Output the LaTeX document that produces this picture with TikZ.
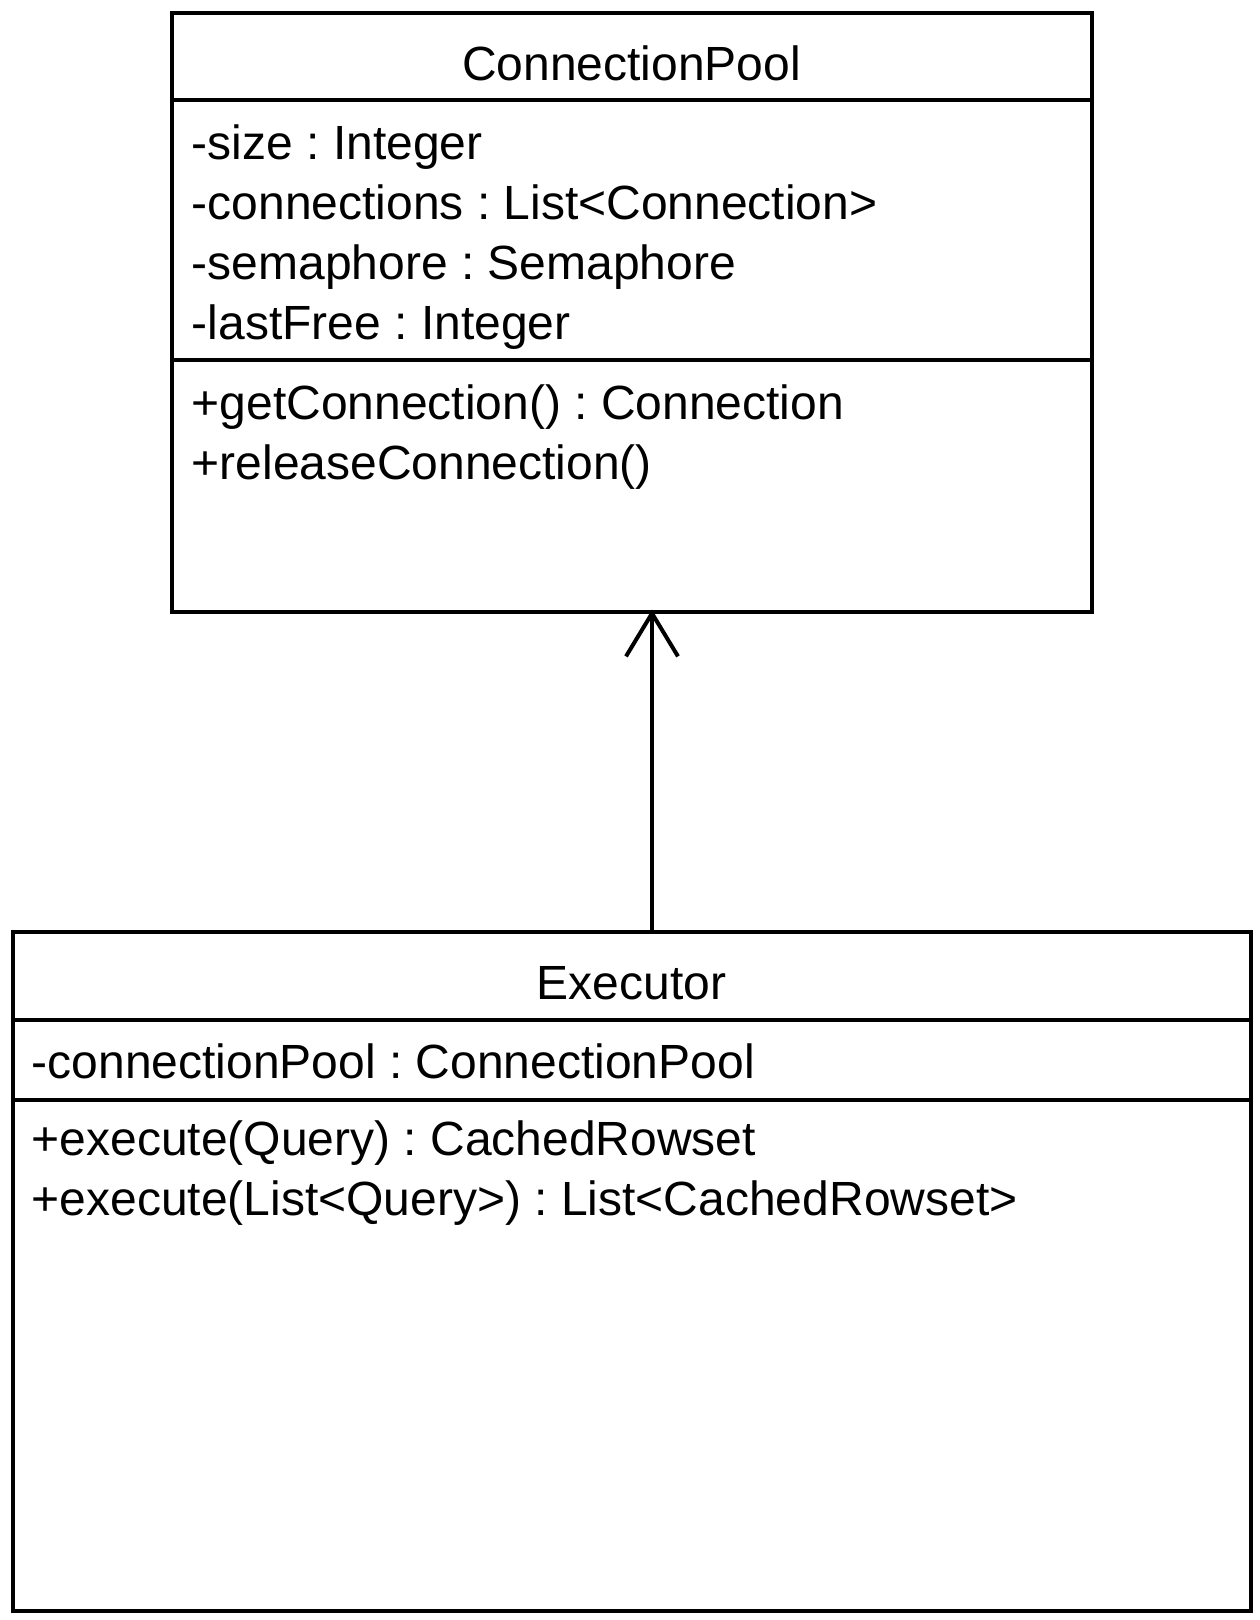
\documentclass[tikz,border=0pt]{standalone}
\usepackage{fontspec}
\setmainfont{Liberation Sans}
\usetikzlibrary{arrows.meta}
\frenchspacing
\begin{document}
\begin{tikzpicture}[x=1pt,y=-1pt,
  umlbox/.style={draw=black,line width=4pt,rectangle,inner sep=0pt},
  divider/.style={line width=4pt},
  txt/.style={anchor=base west,inner sep=0pt,font=\fontsize{48}{60}\selectfont},
  ttl/.style={anchor=base,inner sep=0pt,font=\fontsize{48}{60}\selectfont},
  assoc/.style={line width=4pt,shorten >=-4pt,-{Straight Barb[length=43pt,width=52pt,line width=4pt]}}]
\useasboundingbox (0,0) rectangle (1260,1620);
% ConnectionPool
\node[umlbox,minimum width=920pt,minimum height=599pt] (cp) at (631.5,312) {};
\coordinate (cpd1) at (171.5,100);
\coordinate (cpd2) at (171.5,359.5);
\draw[divider] (cpd1) -- (cpd1 -| cp.east);
\draw[divider] (cpd2) -- (cpd2 -| cp.east);
\node[ttl] (cpt) at (631.5,80) {ConnectionPool};
\node[txt] (a1) at (191.5,159) {-size : Integer};
\node[txt] (a2) at (191.5,219) {-connections : List<Connection>};
\node[txt] (a3) at (191.5,279) {-semaphore : Semaphore};
\node[txt] (a4) at (191.5,339) {-lastFree : Integer};
\node[txt] (m1) at (191.5,419) {+getConnection() : Connection};
\node[txt] (m2) at (191.5,479) {+releaseConnection()};
% Executor
\node[umlbox,minimum width=1238pt,minimum height=679.5pt] (ex) at (631.5,1271.25) {};
\coordinate (exd1) at (12.5,1020);
\coordinate (exd2) at (12.5,1100);
\draw[divider] (exd1) -- (exd1 -| ex.east);
\draw[divider] (exd2) -- (exd2 -| ex.east);
\node[ttl] (ext) at (631.5,999) {Executor};
\node[txt] (b1) at (31.5,1078) {-connectionPool : ConnectionPool};
\node[txt] (n1) at (31.5,1155) {+execute(Query) : CachedRowset};
\node[txt] (n2) at (31.5,1215) {+execute(List<Query>) : List<CachedRowset>};
% association
\coordinate (ax) at (652,0);
\draw[assoc] (ex.north -| ax) -- (cp.south -| ax);
\end{tikzpicture}
\end{document}
